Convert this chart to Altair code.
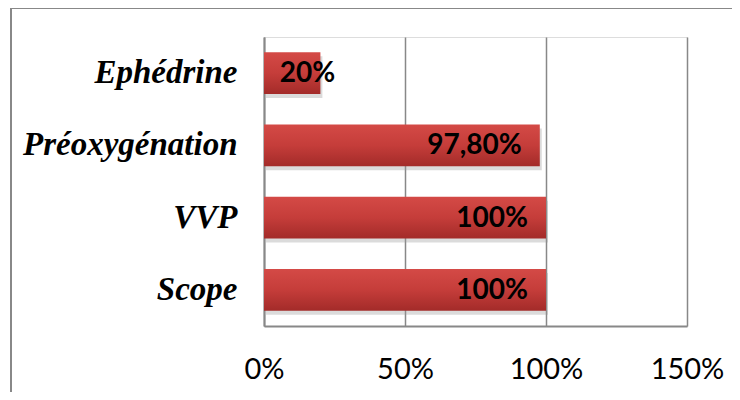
import altair as alt
import pandas as pd

categories = ["Ephédrine", "Préoxygénation", "VVP", "Scope"]
values = [20, 97.8, 100, 100]
labels = ["20%", "97,80%", "100%", "100%"]
tick_values = [0, 50, 100, 150]

df = pd.DataFrame({"cat": categories, "v": values, "lab": labels})

W, H = 423, 289
PL, PT = 256, 29

yenc = alt.Y("cat:N", sort=categories, title=None,
             scale=alt.Scale(paddingInner=0.42, paddingOuter=0.21),
             axis=alt.Axis(labelFont="Liberation Serif", labelFontSize=33,
                           labelFontWeight="bold", labelFontStyle="italic",
                           labelColor="#000", labelPadding=27, ticks=False,
                           domainColor="#888", domainWidth=2, labelLimit=400))
xscale = alt.Scale(domain=[0, 150], nice=False)
xenc = alt.X("v:Q", scale=xscale, title=None,
             axis=alt.Axis(values=tick_values, labelExpr="datum.value + '%'",
                           labelFont="Lato", labelFontSize=29, labelColor="#000",
                           labelPadding=29, labelFlush=False, ticks=False, grid=True,
                           gridColor="#888", gridWidth=1.5,
                           domainColor="#888", domainWidth=2))

base = alt.Chart(df)

shadow = base.mark_bar(color="#999", opacity=0.35).encode(
    x=alt.X("v:Q", scale=xscale), y=alt.Y("cat:N", sort=categories),
    xOffset=alt.value(2), yOffset=alt.value(4))

bars = base.mark_bar(
    color=alt.Gradient(gradient="linear", x1=0, x2=0, y1=0, y2=1,
                       stops=[alt.GradientStop(color="#D44A46", offset=0),
                              alt.GradientStop(color="#C53D3A", offset=0.5),
                              alt.GradientStop(color="#A32B29", offset=1)])
).encode(x=xenc, y=yenc)

text = base.transform_calculate(pos="max(datum.v, 31.6)").mark_text(
    align="right", baseline="middle", dx=-18, dy=1,
    font="Lato", fontSize=28, fontWeight="bold", color="#000"
).encode(x=alt.X("pos:Q", scale=xscale), y=alt.Y("cat:N", sort=categories),
         text="lab:N")

frame = base.mark_rect(fill=None, stroke="#888", strokeWidth=2).encode(
    x=alt.value(-253), x2=alt.value(W + 200),
    y=alt.value(-29), y2=alt.value(H + 200))

chart = alt.layer(frame, shadow, bars, text).properties(
    width=W, height=H,
    autosize=alt.AutoSizeParams(type="none"),
    padding={"left": PL, "top": PT, "right": 45, "bottom": 66},
).configure_view(stroke=None).configure(background="white")

chart.save("out.html", embed_options={"renderer": "svg", "actions": False})
